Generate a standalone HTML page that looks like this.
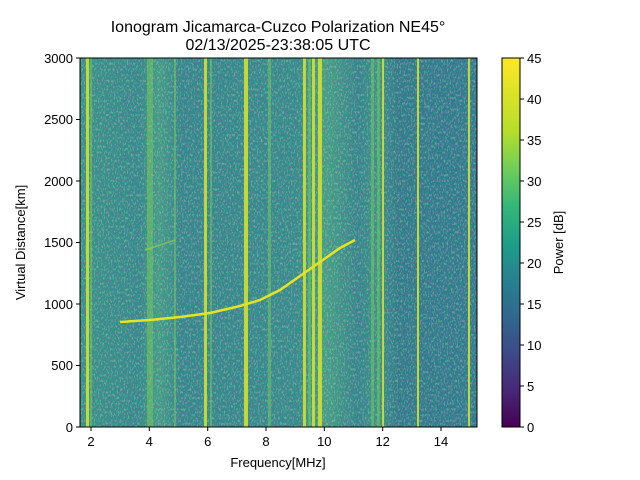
<!DOCTYPE html>
<html><head><meta charset="utf-8"><style>
body{margin:0;background:#fff}
svg{display:block;font-family:"Liberation Sans","DejaVu Sans",sans-serif}
</style></head><body>
<svg width="640" height="480" viewBox="0 0 640 480" xmlns="http://www.w3.org/2000/svg">
<defs>
<linearGradient id="vir" x1="0" y1="1" x2="0" y2="0">
<stop offset="0" stop-color="#440154"/><stop offset="0.1" stop-color="#482878"/>
<stop offset="0.2" stop-color="#3e4989"/><stop offset="0.3" stop-color="#31688e"/>
<stop offset="0.4" stop-color="#26828e"/><stop offset="0.5" stop-color="#1f9e89"/>
<stop offset="0.6" stop-color="#35b779"/><stop offset="0.7" stop-color="#6ece58"/>
<stop offset="0.8" stop-color="#b5de2b"/><stop offset="1" stop-color="#fde725"/>
</linearGradient>
<linearGradient id="bg" x1="0" y1="0" x2="1" y2="0">
<stop offset="0" stop-color="#2f9a86"/><stop offset="0.15" stop-color="#2a8f8a"/>
<stop offset="0.2" stop-color="#3aa584"/><stop offset="0.25" stop-color="#2a8c8b"/>
<stop offset="0.55" stop-color="#2b918a"/><stop offset="0.62" stop-color="#3ba882"/>
<stop offset="0.7" stop-color="#2a8a8b"/><stop offset="0.75" stop-color="#2f9a86"/>
<stop offset="0.8" stop-color="#268089"/><stop offset="1" stop-color="#25808d"/>
</linearGradient>
<filter id="nz" x="0" y="0" width="100%" height="100%">
<feTurbulence type="fractalNoise" baseFrequency="0.8 0.4" numOctaves="2" seed="3"/>
<feColorMatrix type="matrix" values="0 0 0 0 0.25  0 0 0 0 0.12  0 0 0 0 0.42  5 0 0 0 -2.4"/>
</filter>
<filter id="nz2" x="0" y="0" width="100%" height="100%">
<feTurbulence type="fractalNoise" baseFrequency="0.7 0.35" numOctaves="2" seed="11"/>
<feColorMatrix type="matrix" values="0 0 0 0 0.45  0 0 0 0 0.78  0 0 0 0 0.35  5 0 0 0 -2.5"/>
</filter>
<clipPath id="pc"><rect x="80" y="58" width="397" height="369"/></clipPath>
</defs>
<g clip-path="url(#pc)">
<rect x="80" y="58" width="397" height="369" fill="url(#bg)"/>
<rect x="80" y="58" width="397" height="369" filter="url(#nz2)" opacity="0.4"/>
<rect x="80" y="58" width="397" height="369" filter="url(#nz)" opacity="0.55"/>
<g fill="#d2e02e" opacity="0.9">
<rect x="86" y="58" width="3" height="369"/>
<rect x="204" y="58" width="3" height="369"/>
<rect x="244" y="58" width="4" height="369"/>
<rect x="303" y="58" width="3" height="369"/>
<rect x="312" y="58" width="3" height="369"/>
<rect x="318" y="58" width="4" height="369"/>
<rect x="382" y="58" width="2" height="369"/>
<rect x="417" y="58" width="2" height="369"/>
<rect x="468" y="58" width="2" height="369"/>
</g>
<g fill="#7fd34e" opacity="0.45">
<rect x="90" y="58" width="2" height="369"/>
<rect x="147" y="58" width="6" height="369"/>
<rect x="210" y="58" width="2" height="369"/>
<rect x="268" y="58" width="3" height="369"/>
<rect x="308" y="58" width="3" height="369"/>
<rect x="371" y="58" width="3" height="369"/>
<rect x="377" y="58" width="3" height="369"/>
<rect x="174" y="58" width="2" height="369"/>
</g>
<polyline points="120,322 150,320 180,317 210,313 240,306 260,300 280,290 300,276 320,262 340,248 355,240" fill="none" stroke="#e6e420" stroke-width="2.5"/>
<polyline points="145,250 160,245 175,240" fill="none" stroke="#9dd93b" stroke-width="1.5" opacity="0.6"/>
</g>
<rect x="80" y="58" width="397" height="369" fill="none" stroke="#000" stroke-width="1"/>
<g stroke="#000" stroke-width="1">
<line x1="91" y1="427" x2="91" y2="431"/><line x1="149.3" y1="427" x2="149.3" y2="431"/>
<line x1="207.7" y1="427" x2="207.7" y2="431"/><line x1="266" y1="427" x2="266" y2="431"/>
<line x1="324.3" y1="427" x2="324.3" y2="431"/><line x1="382.7" y1="427" x2="382.7" y2="431"/>
<line x1="441" y1="427" x2="441" y2="431"/>
<line x1="76" y1="427" x2="80" y2="427"/><line x1="76" y1="365.5" x2="80" y2="365.5"/>
<line x1="76" y1="304" x2="80" y2="304"/><line x1="76" y1="242.5" x2="80" y2="242.5"/>
<line x1="76" y1="181" x2="80" y2="181"/><line x1="76" y1="119.5" x2="80" y2="119.5"/>
<line x1="76" y1="58" x2="80" y2="58"/>
</g>
<g font-size="13" fill="#000" text-anchor="middle">
<text x="91" y="446">2</text><text x="149.3" y="446">4</text><text x="207.7" y="446">6</text>
<text x="266" y="446">8</text><text x="324.3" y="446">10</text><text x="382.7" y="446">12</text>
<text x="441" y="446">14</text>
<text x="278" y="467">Frequency[MHz]</text>
</g>
<g font-size="13" fill="#000" text-anchor="end">
<text x="73" y="432">0</text><text x="73" y="370">500</text><text x="73" y="309">1000</text>
<text x="73" y="247">1500</text><text x="73" y="186">2000</text><text x="73" y="124">2500</text>
<text x="73" y="63">3000</text>
</g>
<text transform="translate(25,242.5) rotate(-90)" font-size="13" text-anchor="middle">Virtual Distance[km]</text>
<text x="278" y="32" font-size="16" text-anchor="middle">Ionogram Jicamarca-Cuzco Polarization NE45°</text>
<text x="278" y="50" font-size="16" text-anchor="middle">02/13/2025-23:38:05 UTC</text>
<rect x="502" y="58" width="18" height="369" fill="url(#vir)" stroke="#000" stroke-width="1"/>
<g stroke="#000">
<line x1="520" y1="427" x2="524" y2="427"/><line x1="520" y1="386" x2="524" y2="386"/>
<line x1="520" y1="345" x2="524" y2="345"/><line x1="520" y1="304" x2="524" y2="304"/>
<line x1="520" y1="263" x2="524" y2="263"/><line x1="520" y1="222" x2="524" y2="222"/>
<line x1="520" y1="181" x2="524" y2="181"/><line x1="520" y1="140" x2="524" y2="140"/>
<line x1="520" y1="99" x2="524" y2="99"/><line x1="520" y1="58" x2="524" y2="58"/>
</g>
<g font-size="13" fill="#000">
<text x="527" y="432">0</text><text x="527" y="391">5</text><text x="527" y="350">10</text>
<text x="527" y="309">15</text><text x="527" y="268">20</text><text x="527" y="227">25</text>
<text x="527" y="186">30</text><text x="527" y="145">35</text><text x="527" y="104">40</text>
<text x="527" y="63">45</text>
</g>
<text transform="translate(563,242.5) rotate(-90)" font-size="13" text-anchor="middle">Power [dB]</text>
</svg>
</body></html>
